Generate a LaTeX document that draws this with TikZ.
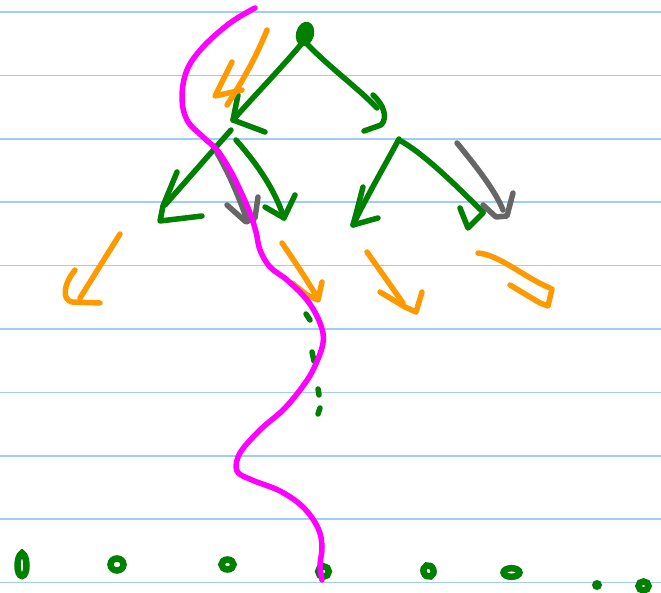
\documentclass[tikz,border=0pt]{standalone}
\definecolor{rulecol}{RGB}{160,204,250}
\definecolor{pgreen}{RGB}{0,128,0}
\definecolor{porange}{RGB}{255,153,0}
\definecolor{pmag}{RGB}{255,0,255}
\definecolor{pgray}{RGB}{102,102,102}
\tikzset{
  ink/.style={line width=5.5pt, line cap=round, line join=round},
  gink/.style={ink, draw=pgreen},
  oink/.style={ink, draw=porange},
  kink/.style={ink, draw=pgray},
  mink/.style={ink, draw=pmag},
  ruleline/.style={draw=rulecol, line width=1.6pt},
  blob/.style={draw=pgreen, line width=6.5pt, fill=white},
  dotmark/.style={ink, draw=pgreen},
}
\begin{document}
\begin{tikzpicture}[x=1pt,y=-1pt]
\useasboundingbox (0,0) rectangle (661,593);
\fill[white] (0,0) rectangle (661,593);
% ruled lines
\foreach \k in {0,...,9}{
  \draw[ruleline] (0,{12+63.4*\k}) -- (661,{12+63.4*\k});
}
% node positions
\coordinate (root) at (305,34);
\coordinate (nL) at (231,130);
\coordinate (nR) at (399,139);
\coordinate (nLL) at (160,221);
\coordinate (nLR) at (284,218);
\coordinate (nRL) at (353,225);
\coordinate (nRR) at (468,228);
% root blob
\fill[pgreen, rotate around={-15:(root)}] (root) ellipse (9pt and 12.5pt);
% root -> left
\draw[gink] (303,42) .. controls (285,64) and (255,95) .. (233,120);
\draw[gink] (238,95) -- (233,120) -- (265,132);
% root -> right
\draw[gink] (305,42) .. controls (330,68) and (358,88) .. (377,108);
\draw[gink] (373,95) .. controls (384,105) and (388,118) .. (381,125) -- (364,131);
% left -> left-left
\draw[gink] (nL) -- (165,205);
\draw[gink] (177,172) -- (163,206) -- (nLL) -- (202,216);
% left -> left-right
\draw[gink] (236,140) .. controls (258,165) and (275,190) .. (nLR);
\draw[gink] (265,207) -- (nLR) -- (295,195);
% grey left
\draw[kink] (217,153) .. controls (230,175) and (240,200) .. (247,220);
\draw[kink] (227,205) -- (246,222) -- (255,218) -- (258,197);
% right -> right-left
\draw[gink] (nR) .. controls (385,165) and (365,200) .. (nRL);
\draw[gink] (363,187) -- (356,214) -- (nRL) -- (378,218);
% right -> right-right
\draw[gink] (401,141) .. controls (430,158) and (465,195) .. (483,212);
\draw[gink] (460,208) -- (nRR) -- (483,213);
% grey right
\draw[kink] (457,143) .. controls (475,165) and (495,190) .. (503,210);
\draw[kink] (483,205) -- (496,217) -- (507,216) -- (513,193);
% orange arrows
\draw[oink] (267,30) .. controls (255,60) and (240,85) .. (227,105);
\draw[oink] (232,62) -- (215,96) -- (242,90);
\draw[oink] (120,234) -- (80,298);
\draw[oink] (75,270) .. controls (63,285) and (62,300) .. (72,302) -- (100,303);
\draw[oink] (282,243) .. controls (295,262) and (307,280) .. (317,297);
\draw[oink] (292,283) -- (307,295) -- (318,300) -- (322,282);
\draw[oink] (367,252) -- (403,303);
\draw[oink] (380,292) -- (405,307) -- (416,312) -- (422,292);
\draw[oink] (478,253) .. controls (500,255) and (525,278) .. (550,288);
\draw[oink] (510,285) -- (540,303) -- (548,306) -- (552,289);
% dotted continuation
\draw[dotmark] (306,314) -- (310,320);
\draw[dotmark] (312,352) -- (314,361);
\draw[dotmark] (318,389) -- (319,395);
\draw[dotmark] (320,408) -- (318,414);
% leaves
\draw[blob] (22,576) .. controls (16,576) and (16,556) .. (22,553) .. controls (28,556) and (28,576) .. (22,576) -- cycle;
\draw[blob] (117,564.5) ellipse (6.5pt and 6pt);
\draw[blob] (227.5,564.5) ellipse (6pt and 5pt);
\draw[blob] (323.5,571.5) ellipse (5.3pt and 5.3pt);
\draw[blob, rotate around={20:(428.5,571)}] (428.5,571) ellipse (5pt and 5.8pt);
\draw[blob] (511.5,572.5) ellipse (8pt and 4.3pt);
\fill[pgreen] (597,585) ellipse (5pt and 5pt);
\draw[blob] (643.5,586) ellipse (5pt and 4.5pt);
% magenta separator
\draw[mink] plot[smooth, tension=0.6] coordinates {
 (255,8) (230,23) (203,47) (187,70) (182,97) (187,120) (203,137)
 (217,150) (230,170) (240,190) (250,213) (256,232) (260,250)
 (270,267) (287,280) (307,300) (320,323) (323,343) (313,370)
 (300,390) (283,410) (260,430) (240,453) (237,471) (252,480)
 (280,491) (303,507) (318,528) (322,547) (320,565) (322,580)};
\end{tikzpicture}
\end{document}
